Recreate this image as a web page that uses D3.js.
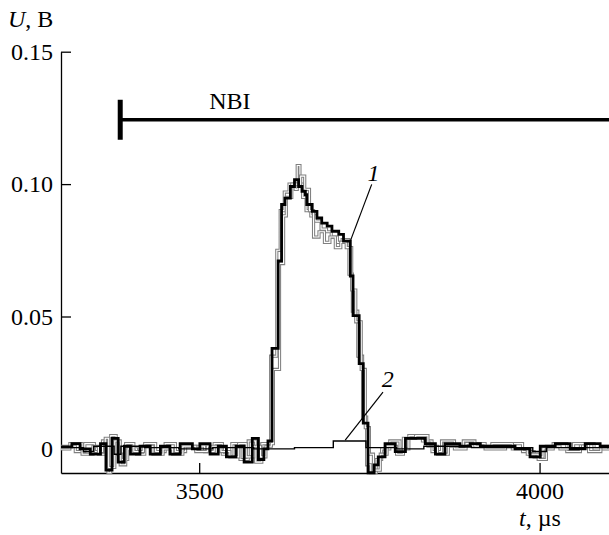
<!DOCTYPE html>
<html>
<head>
<meta charset="utf-8">
<script src="https://cdn.jsdelivr.net/npm/d3@7"></script>
<style>
  html, body { margin: 0; padding: 0; background: #fff; }
  svg { display: block; font-family: "Liberation Serif", "DejaVu Serif", serif; }
</style>
</head>
<body>
<svg id="chart" width="609" height="535"></svg>
<script>
/* ═══════════════════════════════════════════════════════════════
   DATA
═══════════════════════════════════════════════════════════════ */

const xTicks = [3500, 4000];
const yTicks = [0, 0.05, 0.10, 0.15];
const yTickLabels = ["0", "0.05", "0.10", "0.15"];

// curve 1 (thick black), step-after
const t1 = [3297, 3313, 3325, 3340, 3355, 3363, 3372, 3381, 3390, 3399, 3413, 3428, 3443, 3457,
  3472, 3490, 3501, 3516, 3528, 3540, 3554, 3566, 3578, 3587, 3595, 3601, 3607, 3616, 3621, 3626,
  3634, 3640, 3646, 3651, 3656, 3658, 3666, 3673, 3680, 3688, 3695, 3705, 3712, 3722, 3726, 3735,
  3741, 3748, 3757, 3763, 3773, 3788, 3803, 3832, 3847, 3861, 3883, 3898, 3913, 3964, 3986, 4001,
  4023, 4045, 4067, 4089, 4102];
const u1 = [0.0008, 0.002, 0, -0.002, 0.002, -0.008, 0.004, -0.005, 0.001, -0.002, 0.001, -0.002, 0.001, -0.002,
  0.002, 0, 0.002, -0.002, 0.001, -0.003, 0.001, -0.005, 0.004, -0.004, 0, 0.003, 0.038, 0.071, 0.0923, 0.0947,
  0.0991, 0.1017, 0.0991, 0.0973, 0.096, 0.0923, 0.0897, 0.0872, 0.0853, 0.0841, 0.0822, 0.081, 0.0785, 0.0653, 0.0503, 0.0322,
  0.0097, -0.009, -0.006, -0.003, 0.002, -0.001, 0.004, 0.002, -0.002, 0.002, 0.001, 0.002, 0.001, 0, -0.003, 0.001,
  0.002, 0, 0.002, 0.001, 0.001];

// other shots (grey)
const tA = [3297, 3318, 3332, 3346, 3358, 3366, 3370, 3378, 3386, 3395, 3408, 3420, 3436, 3450, 3465, 3480,
  3508, 3522, 3534, 3548, 3560, 3572, 3583, 3592, 3601, 3605, 3614, 3619, 3625, 3632, 3641, 3644, 3648,
  3652, 3657, 3664, 3671, 3679, 3687, 3694, 3703, 3710, 3720, 3725, 3733, 3740, 3746, 3752, 3760, 3768,
  3780, 3795, 3808, 3828, 3842, 3856, 3875, 3892, 3920, 3950, 3975, 3992, 4005, 4020, 4040, 4060, 4080, 4102];
const uA = [0.001, -0.001, 0.002, -0.001, 0.003, -0.009, 0.005, -0.002, -0.004, 0, -0.002, 0.002, -0.001, 0.002, -0.001, 0.001,
  -0.001, 0.002, -0.002, 0.002, -0.004, 0.003, -0.005, 0.002, 0.002, 0.035, 0.075, 0.090, 0.097, 0.100, 0.098, 0.107, 0.100,
  0.095, 0.090, 0.088, 0.086, 0.083, 0.082, 0.080, 0.078, 0.079, 0.066, 0.052, 0.035, 0.012, -0.006, -0.009, -0.004, 0,
  0.003, 0, 0.005, 0.003, -0.001, 0.003, 0, 0.002, 0, 0.002, -0.001, -0.003, 0, 0.002, -0.001, 0.002, 0, 0.001];

const tB = [3297, 3310, 3328, 3344, 3352, 3362, 3367, 3376, 3384, 3392, 3404, 3418, 3432, 3447, 3461, 3476,
  3495, 3512, 3532, 3545, 3558, 3569, 3580, 3590, 3598, 3606, 3609, 3618, 3624, 3628, 3636, 3649, 3655,
  3662, 3668, 3676, 3684, 3692, 3700, 3708, 3716, 3724, 3730, 3738, 3744, 3750, 3756, 3766, 3776, 3790,
  3800, 3818, 3836, 3850, 3866, 3888, 3905, 3930, 3960, 3982, 3998, 4010, 4030, 4050, 4072, 4090, 4102];
const uB = [0, 0.002, -0.002, 0.001, -0.002, 0.004, -0.007, 0.003, -0.006, 0.002, -0.001, 0.001, -0.002, 0, -0.002, 0.001,
  -0.001, 0.001, -0.001, -0.003, 0.002, -0.003, 0.001, -0.003, 0.001, 0.002, 0.030, 0.070, 0.088, 0.095, 0.100, 0.103, 0.098,
  0.090, 0.080, 0.082, 0.078, 0.080, 0.076, 0.078, 0.076, 0.060, 0.048, 0.030, 0.008, -0.002, -0.008, -0.002, 0.001, -0.002,
  0.004, 0.005, 0.001, -0.002, 0.001, 0.003, 0.001, 0.002, 0, -0.002, -0.004, 0.001, 0, 0.002, -0.001, 0.001, 0];

// curve 2 (thin black)
const t2 = [3297, 3330, 3345, 3375, 3385, 3420, 3470, 3520, 3580, 3640, 3697, 3745, 3790, 3830, 3900, 3990, 4010, 4102];
const u2 = [0.0005, -0.001, 0.001, -0.002, 0.001, 0.0005, 0, 0.0005, 0, 0.0005, 0.003, 0.0005, 0, 0.001, 0.0005, -0.001, 0.0005, 0.0005];

// NBI pulse start and level
const nbiStart = 3384;
const nbiLevel = 0.1243;
const nbiLabelT = 3545;

/* ═══════════════════════════════════════════════════════════════
   SCALES + AXES
═══════════════════════════════════════════════════════════════ */

const svg = d3.select("#chart");
const x = d3.scaleLinear().domain([3297, 4102]).range([61, 609]);
const y = d3.scaleLinear().domain([-0.0091, 0.15]).range([473, 51.7]);
const FS = 24;

svg.append("rect").attr("width", 609).attr("height", 535).attr("fill", "#fff");

const gy = svg.append("g")
  .attr("transform", `translate(${x.range()[0]},0)`)
  .call(d3.axisLeft(y).tickValues(yTicks).tickSizeInner(-10).tickSizeOuter(0)
    .tickFormat((d, i) => yTickLabels[i]));
gy.selectAll("text").attr("x", -8).attr("font-size", FS).attr("font-family", "Liberation Serif").attr("fill", "#000");

const gx = svg.append("g")
  .attr("transform", `translate(0,${y.range()[0]})`)
  .call(d3.axisBottom(x).tickValues(xTicks).tickSizeInner(-10).tickSizeOuter(0).tickFormat(d3.format("d")));
gx.selectAll("text").attr("y", 9).attr("font-size", FS).attr("font-family", "Liberation Serif").attr("fill", "#000");

[gx, gy].forEach(g => {
  g.select(".domain").attr("stroke", "#000").attr("stroke-width", 1.3);
  g.selectAll(".tick line").attr("stroke", "#000").attr("stroke-width", 1.3);
});

/* ═══════════════════════════════════════════════════════════════
   TRACES
═══════════════════════════════════════════════════════════════ */

const line = d3.line()
  .x(d => x(d[0]))
  .y(d => y(d[1]))
  .curve(d3.curveStepAfter);

const zipT = (ts, us) => ts.map((t, i) => [t, us[i]]);
const plot = svg.append("g");

[zipT(tA, uA), zipT(tB, uB)].forEach(s => {
  plot.append("path").datum(s).attr("d", line)
    .attr("fill", "none").attr("stroke", "#808080").attr("stroke-width", 3.2);
  plot.append("path").datum(s).attr("d", line)
    .attr("fill", "none").attr("stroke", "#fff").attr("stroke-width", 1.1);
});

plot.append("path").datum(zipT(t2, u2)).attr("d", line)
  .attr("fill", "none").attr("stroke", "#000").attr("stroke-width", 1.4);

plot.append("path").datum(zipT(t1, u1)).attr("d", line)
  .attr("fill", "none").attr("stroke", "#000").attr("stroke-width", 2.8);

/* ═══════════════════════════════════════════════════════════════
   ANNOTATIONS
═══════════════════════════════════════════════════════════════ */

// NBI bar
svg.append("line")
  .attr("x1", x(nbiStart)).attr("x2", x.range()[1])
  .attr("y1", y(nbiLevel)).attr("y2", y(nbiLevel))
  .attr("stroke", "#000").attr("stroke-width", 3.5);
svg.append("line")
  .attr("x1", x(nbiStart)).attr("x2", x(nbiStart))
  .attr("y1", y(nbiLevel) - 20).attr("y2", y(nbiLevel) + 20)
  .attr("stroke", "#000").attr("stroke-width", 5);
svg.append("text")
  .attr("x", x(nbiLabelT)).attr("y", y(nbiLevel) - 11)
  .attr("text-anchor", "middle").attr("font-size", FS).text("NBI");

// curve labels with leaders
const leaders = [
  { lab: "1", tx: 3756, ty: 0.101, from: [3753.4, 0.0999], to: [3721, 0.0778] },
  { lab: "2", tx: 3777, ty: 0.0232, from: [3770, 0.0214], to: [3714.5, 0.0033] },
];
leaders.forEach(d => {
  svg.append("line")
    .attr("x1", x(d.from[0])).attr("y1", y(d.from[1]))
    .attr("x2", x(d.to[0])).attr("y2", y(d.to[1]))
    .attr("stroke", "#000").attr("stroke-width", 1.2);
  svg.append("text")
    .attr("x", x(d.tx)).attr("y", y(d.ty))
    .attr("text-anchor", "middle").attr("font-size", FS).attr("font-style", "italic")
    .text(d.lab);
});

// axis titles
const yt = svg.append("text").attr("x", 8).attr("y", 27).attr("font-size", FS);
yt.append("tspan").attr("font-style", "italic").text("U");
yt.append("tspan").text(", В");

const xt = svg.append("text").attr("x", 519).attr("y", 526).attr("font-size", FS);
xt.append("tspan").attr("font-style", "italic").text("t");
xt.append("tspan").text(", µs");
</script>
</body>
</html>
